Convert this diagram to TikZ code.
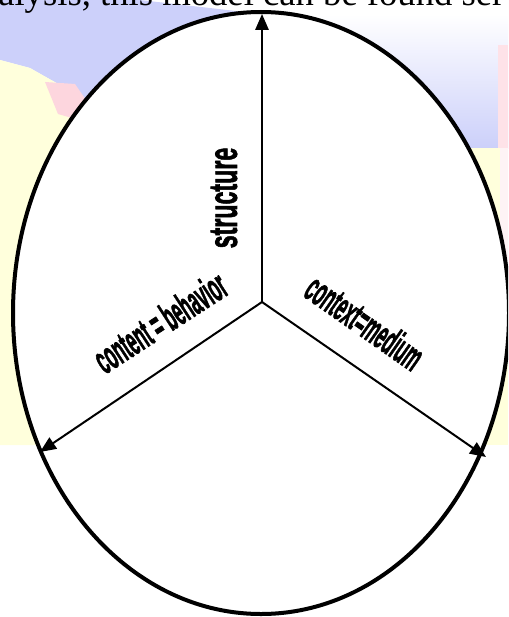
\documentclass[tikz,border=0pt]{standalone}
\usepackage{fontspec}
\setmainfont{Liberation Serif}
\newfontfamily\lblfont{Liberation Sans}[BoldFeatures={FakeBold=2}]
\usetikzlibrary{arrows.meta}
\definecolor{bgLav}{HTML}{CCD0FA}
\definecolor{bgYel}{HTML}{FFFFDC}
\definecolor{bgCyan}{HTML}{DCFEFF}
\definecolor{bgPink}{HTML}{FDD6DE}

\begin{document}
\begin{tikzpicture}[x=0.75pt,y=-0.75pt,
    lbl/.style={inner sep=0pt,font=\lblfont\bfseries\fontsize{30}{30}\selectfont},
    axis/.style={line width=1.5pt,-{Triangle[length=12pt,width=10pt]}}]
  \useasboundingbox (0,0) rectangle (508,617);
  \clip (0,0) rectangle (508,617);
  % slide behind the picture
  \fill[bgLav] (0,0) -- (140,0) -- (262,14) -- (262,110) -- (95,105) -- (60,85) -- (30,68) -- (0,60) -- cycle;
  \fill[bgYel] (0,60) -- (30,68) -- (60,85) -- (95,105) -- (262,110) -- (262,445) -- (0,445) -- cycle;
  \fill[bgPink] (45,82) -- (75,84) -- (86,100) -- (72,118) -- (58,114) -- cycle;
  \shade[top color=white,middle color=bgCyan,bottom color=bgLav] (262,14) rectangle (508,148);
  \fill[bgPink!70] (498,45) rectangle (508,148);
  \fill[bgYel] (262,148) rectangle (508,445);
  \fill[bgPink!30] (500,148) rectangle (508,300);
  \node[anchor=base west,inner sep=0pt,font=\fontsize{27.5}{28}\selectfont] (caption) at (-2,6) {alysis, this model can be found ser};
  % the model
  \draw[line width=3pt,fill=white] (261,313) ellipse [x radius=248,y radius=301];
  \coordinate (o) at (262,302);
  \coordinate (up) at (262,14);
  \coordinate (dl) at (40,452);
  \coordinate (dr) at (486,457);
  \draw[axis] (o) -- (up);
  \draw[axis] (o) -- (dl);
  \draw[axis] (o) -- (dr);
  \node[lbl,rotate=90] (structure) at (224,198) {\scalebox{0.58}[1]{structure}};
  \node[lbl,rotate=33] (content) at (160,322) {\scalebox{0.42}[1]{content = behavior}};
  \node[lbl,rotate=-35] (context) at (365,322) {\scalebox{0.42}[1]{context=medium}};
\end{tikzpicture}
\end{document}
